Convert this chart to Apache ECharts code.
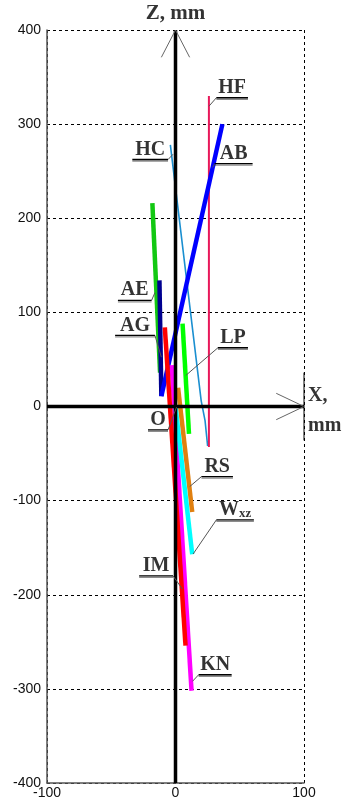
<!DOCTYPE html>
<html>
<head>
<meta charset="utf-8">
<script src="https://cdn.jsdelivr.net/npm/echarts@6/dist/echarts.min.js"></script>
<style>
  html, body { margin: 0; padding: 0; background: #fff; }
  #chart { width: 346px; height: 803px; }
</style>
</head>
<body>
<div id="chart"></div>
<script>
// Axis ranges (mm)
const xRange = [-100, 100];
const zRange = [-400, 400];
const xStep = 100;
const zStep = 100;

// Segment projections onto the XZ plane, [x, z] in mm
const segHC = [[-4, 278], [20, 6], [23, -15], [25, -42]];
const segHF = [[26, 330], [26, -43]];
const segAEgreen = [[-18, 216], [-12, 36]];
const segAEnavy = [[-12.5, 134], [-11, 11]];
const segAB = [[-11, 11], [36.5, 300]];
const segKN = [[-3, 44], [12.5, -302]];
const segIM = [[-8.3, 84], [7.8, -254]];
const segLP = [[5.5, 88], [10.5, -29]];
const segRS = [[2, 20], [13, -112]];
const segWxz = [[0, 0], [13, -157]];

// Annotations: text, underline [x1, x2, z], point the leader goes to [x, z]
const labelTexts = ['HF', 'HC', 'AB', 'AE', 'AG', 'LP', 'O', 'RS', 'W{s|xz}', 'IM', 'KN'];
const labelUnderlines = [
  [31.8, 56.4, 328], [-33.6, -5.8, 262.4], [30.5, 60, 258], [-44.8, -18.6, 112.8],
  [-47, -16, 75.5], [33, 56.4, 62.4], [-21.4, -5.8, -24.8], [20.2, 44.7, -74.5],
  [31.8, 61, -120.5], [-28.3, -1.9, -180], [18, 43.7, -285]
];
const labelTargets = [
  [26, 319], [-1.9, 268], [29, 254], [-16, 121], [-11, 52.4], [8, 33],
  [0.8, -0.7], [11.1, -85], [13.7, -156.7], [5.4, -194], [13.2, -292]
];

const serif = '"Liberation Serif", "Times New Roman", serif';
const sans = '"Liberation Sans", Arial, sans-serif';

function seg(data, color, width) {
  return {
    type: 'line', data: data, symbol: 'none', silent: true, z: 3,
    lineStyle: { color: color, width: width, cap: 'butt' }
  };
}

const series = [
  seg(segHC, '#1a8fd0', 1.6),
  seg(segHF, '#e8185a', 2),
  seg(segAEgreen, '#12c812', 4.5),
  seg(segAEnavy, '#000090', 4.5),
  seg(segAB, '#0000ff', 4.5),
  seg(segKN, '#ff00ff', 4.5),
  seg(segIM, '#ff0000', 4.5),
  seg(segLP, '#00ff00', 4.5),
  seg(segRS, '#e08010', 4.5),
  seg(segWxz, '#00ffff', 4.5)
];

// Main coordinate axes through the origin
series.push({
  type: 'line', data: [[0, zRange[0]], [0, zRange[1]]], symbol: 'none', silent: true, z: 5,
  lineStyle: { color: '#000', width: 3.5, cap: 'butt' }
});
series.push({
  type: 'line', data: [[xRange[0], 0], [xRange[1], 0]], symbol: 'none', silent: true, z: 5,
  lineStyle: { color: '#000', width: 3.5, cap: 'butt' }
});
// Arrowheads
series.push({
  type: 'line', data: [[-11, 371], [0, 400], [11, 371]], symbol: 'none', silent: true, z: 5,
  lineStyle: { color: '#666', width: 1 }
});
series.push({
  type: 'line', data: [[78.4, 14], [100, 0], [78.4, -14]], symbol: 'none', silent: true, z: 5,
  lineStyle: { color: '#666', width: 1 }
});
// Separator next to the X label
series.push({
  type: 'line', data: [[100, 36], [100, -36]], symbol: 'none', silent: true, z: 5,
  lineStyle: { color: '#000', width: 1 }
});

// Leader lines and underlines
labelTexts.forEach(function (t, i) {
  const u = labelUnderlines[i];
  const tg = labelTargets[i];
  const near = tg[0] < u[0] ? u[0] : u[1];
  const far = near === u[0] ? u[1] : u[0];
  series.push({
    type: 'line', data: [tg, [near, u[2]]], symbol: 'none', silent: true, z: 6,
    lineStyle: { color: '#555', width: 1 }
  });
  series.push({
    type: 'line', data: [[near, u[2]], [far, u[2]]], symbol: 'none', silent: true, z: 6,
    lineStyle: { color: '#000', width: 1.3, shadowColor: 'rgba(0,0,0,0.45)', shadowOffsetY: 1.5, shadowBlur: 0 }
  });
});

// Label texts
series.push({
  type: 'scatter', symbolSize: 0, silent: true, z: 7,
  data: labelTexts.map(function (t, i) {
    const u = labelUnderlines[i];
    return { value: [(u[0] + u[1]) / 2, u[2]], name: t };
  }),
  label: {
    show: true, position: 'top', distance: 0,
    formatter: function (p) { return p.name; },
    color: '#000', fontFamily: serif, fontWeight: 'bold', fontSize: 20, lineHeight: 20,
    rich: {
      s: { fontFamily: serif, fontWeight: 'bold', fontSize: 13, color: '#000', verticalAlign: 'bottom', lineHeight: 13, padding: [7, 0, 0, 0] }
    }
  }
});

// Axis titles
series.push({
  type: 'scatter', symbolSize: 0, silent: true, z: 7,
  data: [{ value: [0, zRange[1]], name: 'Z, mm' }],
  label: {
    show: true, position: 'top', distance: 6, formatter: '{b}',
    color: '#000', fontFamily: serif, fontWeight: 'bold', fontSize: 21, lineHeight: 21
  }
});
series.push({
  type: 'scatter', symbolSize: 0, silent: true, z: 7,
  data: [{ value: [xRange[1], 0], name: 'X,\nmm' }],
  label: {
    show: true, position: 'right', distance: 4, offset: [0, 4], formatter: '{b}',
    color: '#000', fontFamily: serif, fontWeight: 'bold', fontSize: 20, lineHeight: 30, align: 'left'
  }
});

const chart = echarts.init(document.getElementById('chart'), null, { renderer: 'canvas' });
chart.setOption({
  animation: false,
  backgroundColor: '#fff',
  grid: { left: 47, right: 42, top: 30, bottom: 20, containLabel: false },
  xAxis: {
    type: 'value', min: xRange[0], max: xRange[1], interval: xStep,
    axisLine: { show: true, onZero: false, lineStyle: { color: '#555', width: 1.5 } },
    axisTick: { show: false },
    axisLabel: { color: '#111', fontFamily: sans, fontSize: 14, margin: 3 },
    splitLine: { show: true, lineStyle: { color: '#000', width: 1, type: [3, 3] } }
  },
  yAxis: {
    type: 'value', min: zRange[0], max: zRange[1], interval: zStep,
    axisLine: { show: true, onZero: false, lineStyle: { color: '#555', width: 1.5 } },
    axisTick: { show: false },
    axisLabel: { color: '#111', fontFamily: sans, fontSize: 14, margin: 6 },
    splitLine: { show: true, lineStyle: { color: '#000', width: 1, type: [3, 3] } }
  },
  series: series
});
</script>
</body>
</html>
